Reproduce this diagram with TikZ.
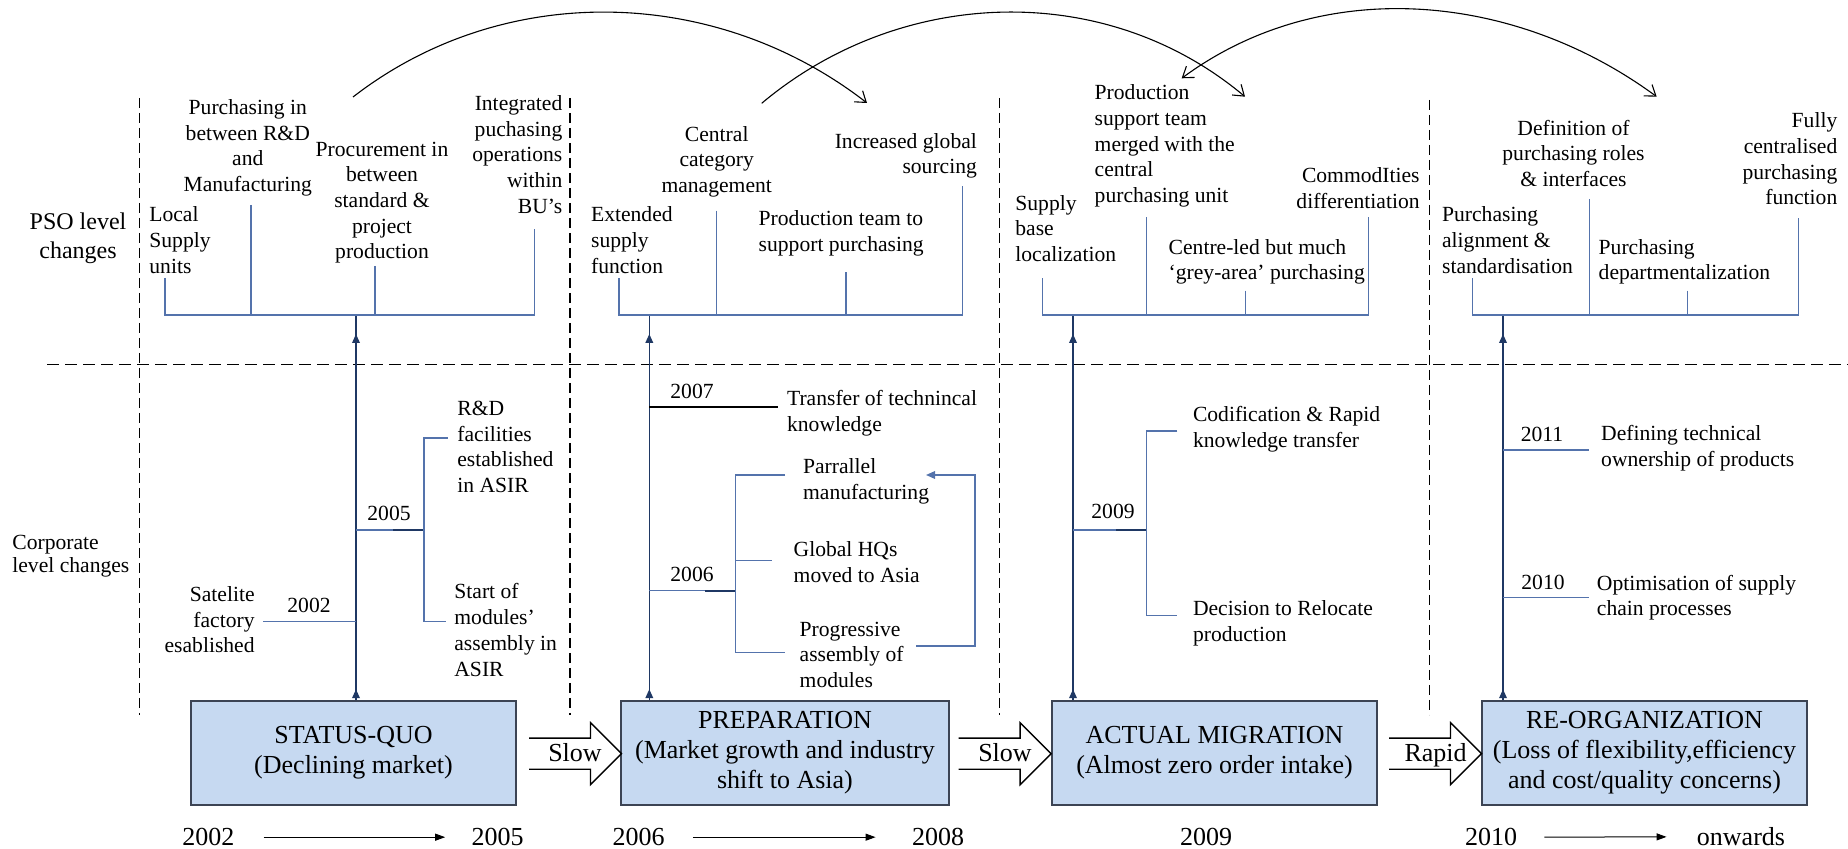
\documentclass[tikz,border=0pt]{standalone}
\usepackage{fontspec}
\setmainfont{Liberation Serif}
\usetikzlibrary{arrows.meta}
\definecolor{treeblue}{RGB}{84,115,172}
\definecolor{navyc}{RGB}{31,56,100}
\definecolor{boxfill}{RGB}{198,217,241}
\definecolor{boxline}{RGB}{60,68,84}
\tikzset{
  pics/blockarr/.style={code={
    \draw[draw=black, line width=0.7pt] (0,-15.5) -- (61.5,-15.5) -- (61.5,-31) -- (92.5,0) -- (61.5,31) -- (61.5,15.5) -- (0,15.5);
  }}
}
\begin{document}
\begin{tikzpicture}[x=0.5pt,y=-0.5pt,
  txt/.style={inner sep=0pt, font=\fontsize{10.8}{12.85}\selectfont},
  btxt/.style={inner sep=0pt, font=\fontsize{13}{15}\selectfont},
  stagebox/.style={draw=boxline, fill=boxfill, line width=0.8pt, minimum width=162.5pt, minimum height=52pt, inner sep=0pt, align=center, font=\fontsize{13}{15}\selectfont},
  tree/.style={draw=treeblue, line width=0.7pt},
  treedk/.style={draw=navyc, line width=0.9pt},
  mainl/.style={draw=navyc, line width=0.8pt},
  uptip/.style={draw=navyc, fill=navyc, line width=0.8pt, -{Triangle[length=4.5pt,width=3.8pt]}},
  vdash/.style={draw=black, line width=0.7pt, dash pattern=on 5pt off 2.5pt},
  hdash/.style={draw=black, line width=0.7pt, dash pattern=on 6pt off 3pt},
  arcln/.style={draw=black, line width=0.55pt},
  barbend/.style={-{Straight Barb[length=5pt,width=7pt]}},
  barbboth/.style={{Straight Barb[length=5pt,width=7pt]}-{Straight Barb[length=5pt,width=7pt]}},
  yrarrow/.style={draw=black, line width=0.5pt, -{Triangle[length=5pt,width=3.5pt]}}
]
\useasboundingbox (0,0) rectangle (1848,849);

% ---------- stage boxes ----------
\node[stagebox] (b1) at (353.5,753) {STATUS-QUO\\(Declining market)};
\node[stagebox, minimum width=164pt] (b2) at (785,753) {PREPARATION\\(Market growth and industry\\shift to Asia)};
\node[stagebox] (b3) at (1214.5,753) {ACTUAL MIGRATION\\(Almost zero order intake)};
\node[stagebox] (b4) at (1644.5,753) {RE-ORGANIZATION\\(Loss of flexibility,efficiency\\and cost/quality concerns)};

% block arrows
\pic at (529,753.7) {blockarr};
\pic at (958.6,753.7) {blockarr};
\pic at (1389,753.7) {blockarr};
\node[btxt, anchor=base] (sl1) at (575,761.7) {Slow};
\node[btxt, anchor=base] (sl2) at (1005,761.7) {Slow};
\node[btxt, anchor=base] (rp3) at (1435.6,761.7) {Rapid};

% ---------- bottom years ----------
\node[btxt, anchor=base] (y1) at (208.3,845.7) {2002};
\node[btxt, anchor=base] (y2) at (497.6,845.7) {2005};
\node[btxt, anchor=base] (y3) at (638.5,845.7) {2006};
\node[btxt, anchor=base] (y4) at (938,845.7) {2008};
\node[btxt, anchor=base] (y5) at (1206,845.7) {2009};
\node[btxt, anchor=base] (y6) at (1491,845.7) {2010};
\node[btxt, anchor=base] (y7) at (1741,845.7) {onwards};
\draw[yrarrow, shorten <=14.5pt, shorten >=13pt] (y1.east) -- (y2.west);
\draw[yrarrow, shorten <=14pt, shorten >=18pt] (y3.east) -- (y4.west);
\draw[yrarrow, shorten <=13.5pt, shorten >=15pt] (y6.east) -- (y7.west);

% ---------- dashed separators ----------
\draw[vdash] (139.5,98) -- (139.5,715);
\draw[vdash] (570,98) -- (570,715);
\draw[vdash] (999.5,98) -- (999.5,715);
\draw[vdash] (1429.5,100) -- (1429.5,715);
\draw[hdash] (47,364.5) -- (1848,364.5);

% ---------- row labels (anchor = baseline of last line) ----------
\node[inner sep=0pt, anchor=base, align=center, font=\fontsize{12}{14.5}\selectfont] (pso) at (78,259) {PSO level\\changes};
\node[inner sep=0pt, anchor=base west, align=left, font=\fontsize{10.8}{11.5}\selectfont] (corp) at (12,573) {Corporate\\level changes};

% ---------- main vertical connectors ----------
\coordinate (j1) at (356,315);
\coordinate (j2) at (649.3,315);
\coordinate (j3) at (1073,315);
\coordinate (j4) at (1503,315);
\foreach \j/\b in {j1/b1,j2/b2,j3/b3,j4/b4}{
  \draw[mainl] (\j |- \b.north) -- (\j);
  \draw[uptip] (\j |- \b.north) -- ([yshift=5.5pt]\j |- \b.north);
  \draw[uptip] ([yshift=-14pt]\j) -- ([yshift=-9.5pt]\j);
}

% ---------- Section 1: PSO ----------
\node[txt, anchor=base west, align=left] (p1a) at (149,273.3) {Local\\Supply\\units};
\node[txt, anchor=base, align=center] (p1b) at (247.8,191.7) {Purchasing in\\between R\&D\\and\\Manufacturing};
\node[txt, anchor=base, align=center] (p1c) at (382,259) {Procurement in\\between\\standard \&\\project\\production};
\node[txt, anchor=base east, align=right] (p1d) at (562.7,213.3) {Integrated\\puchasing\\operations\\within\\BU's};
\draw[tree] (165,278) -- (165,315) -- (534.5,315) -- (534.5,229);
\draw[tree] (251,205) -- (251,315);
\draw[tree] (375,266) -- (375,315);

% Section 1: corporate
\node[txt, anchor=base east, align=right] (c1a) at (255,653) {Satelite\\factory\\esablished};
\node[txt, anchor=base] (c1y) at (309,612.7) {2002};
\draw[tree] (263,621.7) -- (356,621.7);
\node[txt, anchor=base] (c1y5) at (389,520.7) {2005};
\draw[tree] (356,530) -- (424,530);
\draw[treedk] (393,530) -- (424,530);
\draw[tree] (447.6,438) -- (424,438) -- (424,621.7) -- (445.6,621.7);
\node[txt, anchor=base west, align=left] (c1b) at (457,492.7) {R\&D\\facilities\\established\\in ASIR};
\node[txt, anchor=base west, align=left] (c1c) at (454,676) {Start of\\modules'\\assembly in\\ASIR};

% ---------- Section 2: PSO ----------
\node[txt, anchor=base west, align=left] (p2a) at (590.7,273.3) {Extended\\supply\\function};
\node[txt, anchor=base, align=center] (p2b) at (716.7,192.7) {Central\\category\\management};
\node[txt, anchor=base west, align=left] (p2c) at (758.3,251.7) {Production team to\\support purchasing};
\node[txt, anchor=base east, align=right] (p2d) at (977.3,174) {Increased global\\sourcing};
\draw[tree] (619,278) -- (619,315) -- (962.7,315) -- (962.7,186);
\draw[tree] (716.7,210.7) -- (716.7,315);
\draw[tree] (846,272.3) -- (846,315);

% Section 2: corporate
\node[txt, anchor=base] (c2y7) at (692,398.3) {2007};
\draw[draw=black, line width=1pt] (649.3,407.3) -- (778.3,407.3);
\node[txt, anchor=base west, align=left] (c2a) at (786.7,431.7) {Transfer of technincal\\knowledge};
\node[txt, anchor=base] (c2y6) at (692,581.7) {2006};
\draw[tree] (649.3,590.7) -- (735.3,590.7);
\draw[treedk] (705,590.7) -- (735.3,590.7);
\draw[tree] (785,475) -- (735.3,475) -- (735.3,652.7) -- (785,652.7);
\draw[tree] (735.3,560.7) -- (772.3,560.7);
\node[txt, anchor=base west, align=left] (c2b) at (802.7,499.3) {Parrallel\\manufacturing};
\node[txt, anchor=base west, align=left] (c2c) at (793.3,582.7) {Global HQs\\moved to Asia};
\node[txt, anchor=base west, align=left] (c2d) at (799.3,687.7) {Progressive\\assembly of\\modules};
\draw[tree, -{Triangle[length=4.5pt,width=3.8pt]}] (916,646) -- (975,646) -- (975,475) -- (926,475);

% ---------- Section 3: PSO ----------
\node[txt, anchor=base west, align=left] (p3a) at (1015,261.7) {Supply\\base\\localization};
\node[txt, anchor=base west, align=left] (p3b) at (1094.3,202.7) {Production\\support team\\merged with the\\central\\purchasing unit};
\node[txt, anchor=base west, align=left] (p3c) at (1168.3,280) {Centre-led but much\\`grey-area' purchasing};
\node[txt, anchor=base east, align=right] (p3d) at (1420,208.3) {CommodIties\\differentiation};
\draw[tree] (1042.3,278.3) -- (1042.3,315) -- (1368.3,315) -- (1368.3,217.3);
\draw[tree] (1146.7,217.3) -- (1146.7,315);
\draw[tree] (1245.3,290.7) -- (1245.3,315);

% Section 3: corporate
\node[txt, anchor=base] (c3y) at (1113,518.3) {2009};
\draw[tree] (1073,530) -- (1146.7,530);
\draw[treedk] (1116,530) -- (1146.7,530);
\draw[tree] (1177.3,431) -- (1146.7,431) -- (1146.7,615.7) -- (1177.3,615.7);
\node[txt, anchor=base west, align=left] (c3a) at (1192.6,447.3) {Codification \& Rapid\\knowledge transfer};
\node[txt, anchor=base west, align=left] (c3b) at (1192.6,641.7) {Decision to Relocate\\production};

% ---------- Section 4: PSO ----------
\node[txt, anchor=base west, align=left] (p4a) at (1441.7,273.3) {Purchasing\\alignment \&\\standardisation};
\node[txt, anchor=base, align=center] (p4b) at (1573.5,186.7) {Definition of\\purchasing roles\\\& interfaces};
\node[txt, anchor=base west, align=left] (p4c) at (1598.3,280) {Purchasing\\departmentalization};
\node[txt, anchor=base east, align=right] (p4d) at (1837.7,205) {Fully\\centralised\\purchasing\\function};
\draw[tree] (1472.7,278.3) -- (1472.7,315) -- (1798.3,315) -- (1798.3,218.3);
\draw[tree] (1589.3,199) -- (1589.3,315);
\draw[tree] (1687.3,290.7) -- (1687.3,315);

% Section 4: corporate
\node[txt, anchor=base] (c4y1) at (1542,441.7) {2011};
\draw[tree] (1503,450) -- (1589.2,450);
\node[txt, anchor=base west, align=left] (c4a) at (1600.8,466.7) {Defining technical\\ownership of products};
\node[txt, anchor=base] (c4y0) at (1543,589.3) {2010};
\draw[tree] (1503,597.3) -- (1589.2,597.3);
\node[txt, anchor=base west, align=left] (c4b) at (1596.5,616) {Optimisation of supply\\chain processes};

% ---------- top arcs ----------
\coordinate (a1s) at (353,97);
\coordinate (a1e) at (867,103);
\coordinate (a2s) at (761.7,103.3);
\coordinate (a2e) at (1245,96.7);
\coordinate (a3s) at (1181.7,78.3);
\coordinate (a3e) at (1656.7,96.7);
\draw[arcln, barbend] (a1s) .. controls (504,-20) and (716,-14) .. (a1e);
\draw[arcln, barbend] (a2s) .. controls (901,-13.7) and (1105.6,-20.3) .. (a2e);
\draw[arcln, barbboth] (a3s) .. controls (1323,-25.8) and (1515.3,-7.3) .. (a3e);
\end{tikzpicture}
\end{document}
